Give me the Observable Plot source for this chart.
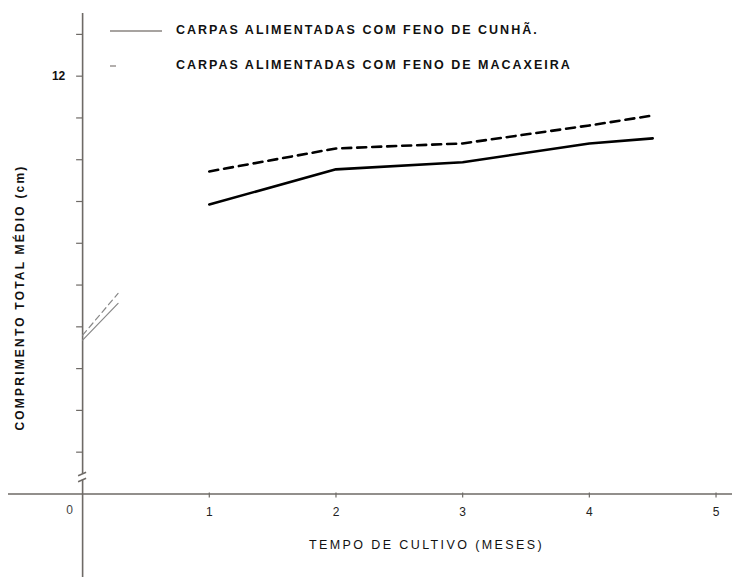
<!DOCTYPE html>
<html><head><meta charset="utf-8">
<script src="https://cdn.jsdelivr.net/npm/d3@7"></script>
<script src="https://cdn.jsdelivr.net/npm/@observablehq/plot@0.6"></script>
<style>
body{margin:0;background:#fff;}
#wrap{position:relative;width:732px;height:578px;overflow:hidden;}
.leg{position:absolute;left:0;font-family:"Liberation Sans",Arial,sans-serif;font-size:12.5px;font-weight:bold;letter-spacing:2px;color:#111;white-space:nowrap;}
.leg svg{vertical-align:middle;margin-right:14px;}
</style></head><body><div id="wrap"></div>
<script>
// ---- data ----
const months = [1, 2, 3, 4, 4.5];
const cunha = [8.93, 9.77, 9.94, 10.39, 10.51];
const macaxeira = [9.72, 10.27, 10.39, 10.82, 11.06];
const startMonths = [0, 0.28];
const cunhaStart = [5.68, 6.56];
const macaxeiraStart = [5.80, 6.80];
const xTicks = [1, 2, 3, 4, 5];
const originLabel = ["0"];
const yTicks = [3, 4, 5, 6, 7, 8, 9, 10, 11, 12, 13];
const yLabels = [12];
const xBaseline = 2;
const yBreak = 2.4;
const seriesNames = ["CARPAS ALIMENTADAS COM FENO DE CUNHÃ.", "CARPAS ALIMENTADAS COM FENO DE MACAXEIRA"];
const xTitle = "TEMPO DE CULTIVO (MESES)";
const yTitle = "COMPRIMENTO TOTAL MÉDIO (cm)";

const rowsC = months.map((m, i) => ({x: m, y: cunha[i]}));
const rowsM = months.map((m, i) => ({x: m, y: macaxeira[i]}));
const startC = startMonths.map((m, i) => ({x: m, y: cunhaStart[i]}));
const startM = startMonths.map((m, i) => ({x: m, y: macaxeiraStart[i]}));

const axisColor = "#6e6a66";
const font = '"Liberation Sans", Arial, sans-serif';

const breakMark = (index, scales) => {
  const g = document.createElementNS("http://www.w3.org/2000/svg", "g");
  const cx = scales.x(0), cy = scales.y(yBreak);
  g.innerHTML =
    `<rect x="${cx - 3}" y="${cy - 3}" width="6" height="6" fill="#fff"/>` +
    `<line x1="${cx - 4}" y1="${cy - 1}" x2="${cx + 4}" y2="${cy - 4.5}" stroke="${axisColor}" stroke-width="1.5"/>` +
    `<line x1="${cx - 4}" y1="${cy + 5}" x2="${cx + 4}" y2="${cy + 1.5}" stroke="${axisColor}" stroke-width="1.5"/>`;
  return g;
};

const chart = Plot.plot({
  width: 732,
  height: 578,
  marginLeft: 8,
  marginRight: 0,
  marginTop: 13,
  marginBottom: 1,
  x: {domain: [-0.585, 5.13], axis: null},
  y: {domain: [0, 13.5], axis: null},
  style: {fontFamily: font, background: "#fff"},
  marks: [
    Plot.ruleY([xBaseline], {stroke: axisColor, strokeWidth: 1.5}),
    Plot.ruleX([0], {stroke: axisColor, strokeWidth: 1.6}),
    breakMark,
    Plot.ruleY(yTicks, {x1: 0, x2: 0, insetLeft: -6, stroke: axisColor, strokeWidth: 1.2}),
    Plot.ruleX(xTicks, {y1: xBaseline, y2: xBaseline, insetTop: -1, insetBottom: -4, stroke: axisColor, strokeWidth: 1.2}),
    Plot.text(yLabels, {x: 0, y: d => d, text: d => String(d), dx: -24, fontSize: 12, fontWeight: "bold", fill: "#111"}),
    Plot.text(xTicks, {x: d => d, y: xBaseline, text: d => String(d), dy: 18, fontSize: 12, fill: "#222"}),
    Plot.text(originLabel, {x: 0, y: xBaseline, text: d => d, dx: -13, dy: 16, fontSize: 12, fill: "#444"}),
    Plot.text([xTitle], {frameAnchor: "bottom", text: d => d, dx: 56, dy: -29, fontSize: 12.5, fill: "#111"}),
    Plot.text([yTitle], {frameAnchor: "left", textAnchor: "middle", text: d => d, rotate: -90, dx: 12, dy: 2, fontSize: 12, fontWeight: "bold", fill: "#111"}),
    Plot.line(startC, {x: "x", y: "y", stroke: "#888", strokeWidth: 1.2}),
    Plot.line(startM, {x: "x", y: "y", stroke: "#888", strokeWidth: 1.2, strokeDasharray: "6,4"}),
    Plot.line(rowsC, {x: "x", y: "y", stroke: "#000", strokeWidth: 2.6}),
    Plot.line(rowsM, {x: "x", y: "y", stroke: "#000", strokeWidth: 2.6, strokeDasharray: "9,6"})
  ]
});
const wrap = document.getElementById("wrap");
wrap.appendChild(chart);
chart.style.position = "absolute";
chart.style.left = "0";
chart.style.top = "0";
chart.querySelectorAll("text").forEach(t => {
  if (t.textContent === yTitle) t.style.letterSpacing = "2.2px";
  if (t.textContent === xTitle) t.style.letterSpacing = "2.4px";
});

// legend inside plot area (HTML overlay)
const legendDefs = [
  {name: seriesNames[0], top: 23, x1: 0, x2: 52, stroke: "#8a8480", w: 1.3},
  {name: seriesNames[1], top: 58, x1: 0, x2: 6, stroke: "#8a8480", w: 1.3}
];
legendDefs.forEach(d => {
  const div = document.createElement("div");
  div.className = "leg";
  div.style.left = "110px";
  div.style.top = d.top + "px";
  div.innerHTML = `<svg width="52" height="14"><line x1="${d.x1}" y1="7" x2="${d.x2}" y2="7" stroke="${d.stroke}" stroke-width="${d.w}"/></svg>` + d.name;
  wrap.appendChild(div);
});
</script>
</body></html>
